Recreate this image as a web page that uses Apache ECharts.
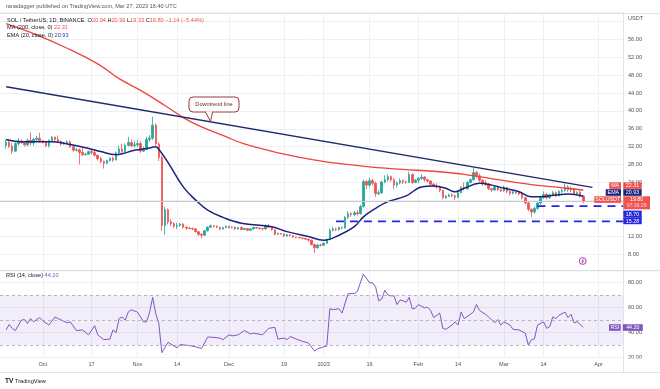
<!DOCTYPE html>
<html><head><meta charset="utf-8">
<script src="https://cdn.jsdelivr.net/npm/echarts@6/dist/echarts.min.js"></script>
<style>html,body{margin:0;padding:0;background:#fff}#c{width:660px;height:389px}</style>
</head><body><div id="c"></div>
<script>
const FONT = '"Liberation Sans", Arial, sans-serif';
const FS = 5.6;

// categories: daily from firstDay, dayCount days
const firstDay = '2022-09-17';
const dayCount = 205;
const candleStart = '2022-09-19';

// daily OHLC, Sep 19 2022 -> Mar 27 2023
const opens = [
32.3,33.0,32.1,31.0,32.7,33.2,32.9,32.4,33.4,32.8,33.6,33.9,
33.3,33.0,32.2,33.4,34.1,33.6,33.2,32.6,32.8,33.1,32.0,31.2,31.3,30.7,30.2,30.3,30.9,30.7,30.1,29.3,28.7,28.3,28.9,29.4,29.0,30.6,31.5,30.9,32.3,32.9,32.2,
32.4,32.7,31.0,31.4,33.6,33.9,36.8,32.6,29.6,14.4,17.9,15.2,14.8,14.2,14.4,14.7,14.0,13.8,13.7,13.6,13.0,12.4,12.2,13.2,14.0,14.3,14.2,14.0,13.6,13.9,
14.2,13.9,14.0,13.6,13.9,13.5,13.7,13.3,13.6,13.9,13.8,13.7,13.6,14.3,14.0,13.4,12.4,12.6,12.5,12.0,12.3,12.1,11.8,11.7,11.6,11.5,11.3,11.1,10.1,9.4,10.0,
9.96,10.4,11.2,13.3,13.6,13.5,13.9,13.8,16.2,17.0,16.8,17.2,17.0,18.6,24.2,23.4,24.4,23.8,21.5,21.7,24.1,24.6,25.3,24.6,23.4,23.9,24.4,24.1,24.0,25.8,24.0,
24.5,24.9,25.2,24.6,24.3,23.6,23.2,23.0,22.2,20.6,20.9,21.2,21.0,20.7,21.7,22.9,22.6,24.0,24.6,26.2,25.5,24.5,23.9,23.6,22.6,22.3,23.0,22.4,
22.1,22.9,22.0,21.6,21.9,21.7,21.4,20.6,19.4,18.0,17.4,18.2,19.4,20.6,21.3,20.6,21.2,21.7,21.0,22.0,22.2,23.0,22.3,22.6,21.5,21.8,20.94];
const closes = [
33.0,32.1,31.0,32.7,33.2,32.9,32.4,33.4,32.8,33.6,33.9,33.3,
33.0,32.2,33.4,34.1,33.6,33.2,32.6,32.8,33.1,32.0,31.2,31.3,30.7,30.2,30.3,30.9,30.7,30.1,29.3,28.7,28.3,28.9,29.4,29.0,30.6,31.5,30.9,32.3,32.9,32.2,32.4,
32.7,31.0,31.4,33.6,33.9,36.8,32.6,29.6,14.4,17.9,15.2,14.8,14.2,14.4,14.7,14.0,13.8,13.7,13.6,13.0,12.4,12.2,13.2,14.0,14.3,14.2,14.0,13.6,13.9,14.2,
13.9,14.0,13.6,13.9,13.5,13.7,13.3,13.6,13.9,13.8,13.7,13.6,14.3,14.0,13.4,12.4,12.6,12.5,12.0,12.3,12.1,11.8,11.7,11.6,11.5,11.3,11.1,10.1,9.4,10.0,9.96,
10.4,11.2,13.3,13.6,13.5,13.9,13.8,16.2,17.0,16.8,17.2,17.0,18.6,24.2,23.4,24.4,23.8,21.5,21.7,24.1,24.6,25.3,24.6,23.4,23.9,24.4,24.1,24.0,25.8,24.0,24.5,
24.9,25.2,24.6,24.3,23.6,23.2,23.0,22.2,20.6,20.9,21.2,21.0,20.7,21.7,22.9,22.6,24.0,24.6,26.2,25.5,24.5,23.9,23.6,22.6,22.3,23.0,22.4,22.1,
22.9,22.0,21.6,21.9,21.7,21.4,20.6,19.4,18.0,17.4,18.2,19.4,20.6,21.3,20.6,21.2,21.7,21.0,22.0,22.2,23.0,22.3,22.6,21.5,21.8,20.94,19.80];
const lows = [
31.6,31.7,30.4,30.8,32.2,32.6,32.0,32.1,32.3,32.2,33.0,32.9,
32.7,31.9,31.8,33.2,33.2,32.9,32.2,32.4,32.6,31.7,30.9,30.9,28.0,29.9,30.0,30.2,30.3,29.8,28.9,28.3,27.1,28.1,28.6,28.6,28.9,30.4,30.6,30.6,32.0,31.8,31.8,
31.9,30.6,30.8,31.2,33.0,33.5,32.2,28.8,13.2,12.3,14.6,14.2,13.8,13.6,14.1,13.7,13.4,13.5,13.3,12.8,12.0,11.5,12.1,13.0,13.8,13.9,13.8,13.3,13.4,13.8,
13.7,13.7,13.4,13.5,13.3,13.4,13.1,13.2,13.5,13.6,13.5,13.3,13.5,13.8,13.2,12.2,12.3,12.3,11.8,11.9,11.9,11.6,11.5,11.5,11.3,11.1,10.8,9.9,8.2,9.2,9.7,
9.9,10.3,11.1,13.0,13.1,13.2,13.5,13.7,15.8,16.3,16.5,16.6,16.8,18.4,22.6,22.9,23.3,20.8,21.2,21.4,23.8,24.2,24.1,22.4,22.8,23.6,23.6,23.7,23.9,23.6,23.8,
23.8,24.6,24.2,24.0,23.2,22.9,22.6,21.8,20.2,20.3,20.7,20.7,20.1,20.5,21.5,22.2,22.3,23.8,24.4,24.9,24.1,23.2,23.2,22.3,21.9,22.1,22.1,21.8,
21.9,21.6,21.1,21.3,21.4,21.1,20.2,19.1,17.6,16.3,17.0,17.9,19.0,20.3,20.2,20.3,20.9,20.7,20.9,21.6,21.9,21.9,21.8,21.2,21.2,20.6,19.33];
const highs = [
33.6,33.4,32.8,33.0,33.9,33.6,33.2,33.8,35.2,34.0,34.4,35.1,
33.5,33.2,33.6,34.4,34.3,34.5,33.4,33.0,33.4,33.4,32.2,31.7,31.6,31.7,30.6,31.1,31.3,31.2,30.2,29.7,28.9,29.1,29.6,29.8,30.9,32.2,32.6,32.7,34.2,33.6,33.3,
33.5,33.2,32.0,34.2,34.6,38.7,37.2,33.0,30.0,18.6,18.2,15.8,15.1,15.0,15.0,14.9,14.2,14.1,13.9,13.8,13.1,12.7,13.4,14.2,14.6,14.5,14.4,14.1,14.1,14.4,
14.3,14.2,14.1,14.0,14.2,13.9,13.8,13.8,14.1,14.0,14.0,13.8,14.6,14.7,14.1,13.5,12.8,12.7,12.6,12.5,12.3,12.2,11.9,11.8,11.7,11.6,11.5,11.2,10.3,10.2,10.3,
10.6,11.5,13.7,14.0,13.9,14.1,14.1,16.5,17.6,17.4,17.6,17.8,19.0,24.6,24.5,25.0,24.8,24.2,22.2,24.4,25.6,25.9,25.6,25.0,24.2,24.9,24.7,24.4,26.4,26.0,24.8,
25.2,25.9,25.4,24.8,24.5,23.9,23.8,23.3,22.4,21.2,21.5,21.6,21.3,22.0,23.2,24.0,24.3,24.9,27.2,26.6,26.0,24.7,24.5,23.9,22.8,23.2,23.3,22.7,
23.3,23.0,22.2,22.1,22.0,21.9,21.6,20.8,19.6,18.2,18.6,19.7,21.0,22.0,21.7,21.4,22.1,22.0,22.3,22.6,23.8,23.4,23.1,22.8,22.0,22.2,20.99];

// [dayIndex since firstDay, value]
const ema20 = [[2,33.6],[7,33.1],[17,33.1],[22,32.6],[29,31.6],[33,30.9],[38,30.2],[40,30.4],[44,31.2],[49,31.7],[51,32.0],[52,31.4],[55,28.5],[60,23.0],[64,20.1],[68,17.8],[73,16.2],[79,14.9],[89,14.1],[94,13.0],[101,11.9],[106,11.1],[111,12.2],[116,14.1],[119,16.3],[123,18.2],[127,19.7],[133,21.0],[138,23.0],[142,23.2],[146,22.7],[149,21.9],[152,22.7],[157,23.8],[161,23.4],[165,22.7],[170,21.9],[174,20.8],[177,20.8],[182,21.2],[186,21.4],[191,20.93]];
const ma200 = [[2,59.5],[12,57.0],[22,54.0],[32,50.5],[39,47.2],[47,44.2],[54,41.2],[60,38.5],[66,36.4],[73,34.5],[80,32.6],[90,30.8],[100,29.4],[110,28.3],[121,27.5],[132,26.9],[142,26.5],[152,25.8],[164,24.5],[174,23.5],[184,22.8],[191,22.31]];
const rsi14 = [[2,42.2],[3,46.6],[4,43.5],[5,41.7],[7,50],[8,50.5],[9,47.4],[10,51.3],[11,48.7],[13,52.1],[14,49.5],[16,46.1],[18,52.6],[19,51.3],[22,47.9],[23,48.7],[25,41.7],[27,42.2],[29,38.3],[31,45.6],[32,38.3],[34,34.4],[36,35],[37,42.2],[38,40],[39,51.3],[40,52.6],[41,50],[42,56.5],[43,58.3],[45,56.5],[47,48.7],[48,48.7],[49,56.5],[50,68.2],[51,55.2],[52,47.4],[53,24],[55,32.3],[58,27.9],[59,30.5],[62,29.7],[64,28.7],[66,27.4],[68,36.5],[69,36.5],[72,35.7],[73,34.4],[75,38.3],[76,37.5],[78,38.3],[80,41.7],[82,39.1],[83,39.6],[86,38.3],[88,43.5],[90,44.3],[91,34.9],[93,35.7],[94,34.4],[95,37],[97,34.9],[99,33.1],[101,31.8],[103,25.3],[104,27.1],[106,28.7],[107,29.2],[108,59.1],[109,58.5],[111,59.1],[112,55.7],[114,71.3],[116,71.3],[117,72.9],[119,86.9],[121,79.9],[122,79.9],[123,76.5],[124,65.6],[125,66.9],[126,73.9],[127,70.3],[128,69.5],[129,69.5],[130,62.5],[131,66.1],[132,65.6],[133,64.3],[134,68.2],[135,59.1],[136,59.6],[137,62.5],[139,59.9],[140,60.4],[141,57.8],[142,52.1],[144,55.7],[145,43.5],[146,42.7],[148,46.1],[149,48.7],[150,46.1],[151,56.5],[152,51.3],[154,54.7],[155,56.5],[156,62.5],[157,57.8],[159,54.7],[160,52.6],[162,47.9],[163,50.5],[164,46.1],[165,48.7],[167,46.1],[168,42.7],[170,42.2],[172,39.6],[173,30.2],[174,34.4],[175,35],[176,46.1],[178,48.7],[179,43.5],[180,44.8],[181,52.6],[182,51.3],[183,53.9],[185,56.5],[186,52.1],[187,54.7],[188,47.9],[189,48.7],[191,44.2]];
const downtrend = [[2,45.4],[194,22.9]];
const support1 = [[110,15.28],[204,15.28]];
const support2 = [[176,18.70],[204,18.70]];
const lastPrice = 19.80;

const tickDates = ['2022-10-01','2022-10-17','2022-11-01','2022-11-14','2022-12-01','2022-12-19','2023-01-01','2023-01-16','2023-02-01','2023-02-14','2023-03-01','2023-03-14','2023-04-01'];
const tickTexts = ['Oct','17','Nov','14','Dec','19','2023','16','Feb','14','Mar','14','Apr'];

const cats = [];
{ const [y,m,d] = firstDay.split('-').map(Number); const t0 = Date.UTC(y,m-1,d);
  for (let k=0;k<dayCount;k++) cats.push(new Date(t0+k*86400000).toISOString().slice(0,10)); }
const off = cats.indexOf(candleStart);
const candleData = opens.map((o,k)=>[off+k, o, closes[k], lows[k], highs[k]]);

const isTick = (idx, val) => tickDates.indexOf(val) >= 0;
const GRID = '#eef0f4';
const TXT = '#50535e';

function xAx(gi, showLabel){
  return {type:'category', gridIndex:gi, data:cats, boundaryGap:false,
    axisLine:{show:false}, axisTick:{show:false},
    axisLabel:{show:showLabel, interval:isTick, formatter:v=>tickTexts[tickDates.indexOf(v)]||'', fontSize:FS, fontFamily:FONT, color:TXT, margin:3.5},
    splitLine:{show:true, interval:isTick, lineStyle:{color:GRID, width:1}}};
}

const Z = 100;
function txt(x,y,text,fill,extra){ return Object.assign({type:'text', z:Z, style:Object.assign({x,y,text,fill:fill||TXT,fontSize:FS,fontFamily:FONT,verticalAlign:'middle',align:'left'}, extra||{})}); }
function box(x,y,w,h,bg,text){ return [
  {type:'rect', z:Z, shape:{x,y,width:w,height:h}, style:{fill:bg}},
  {type:'text', z:Z+1, style:{x:x+w/2,y:y+h/2+0.3,text,fill:'#fff',fontSize:FS-0.3,fontFamily:FONT,align:'center',verticalAlign:'middle'}}]; }
function line(x1,y1,x2,y2,c,w){ return {type:'line', z:Z-10, shape:{x1,y1,x2,y2}, style:{stroke:c,lineWidth:w||1}}; }

const RED='#ef5350', NAVY='#1a237e', BLUE='#2626dc', PURPLE='#7e57c2';
const richBase = {fontSize:FS, fontFamily:FONT};
const graphics = [
  {type:'rect', z:Z-12, shape:{x:0,y:271.2,width:623,height:2}, style:{fill:'#fff'}},
  {type:'rect', z:Z-12, shape:{x:623.5,y:358.5,width:37,height:13}, style:{fill:'#fff'}},
  line(0,13.5,660,13.5,'#e0e3eb'),
  line(0,270.7,660,270.7,'#d6d9e0'),
  line(0,372.5,660,372.5,'#e0e3eb'),
  line(623.5,357,623.5,372.5,'#e0e3eb'),
  txt(6,6,'ranadagger published on TradingView.com, Mar 27, 2023 16:40 UTC','#555'),
  {type:'text', z:Z, style:{x:7,y:20,verticalAlign:'middle',fontSize:FS,fontFamily:FONT,fill:'#131722',
    text:'{d|SOL / TetherUS, 1D, BINANCE}  {d|O}{r|20.94} {d|H}{r|20.99} {d|L}{r|19.33} {d|C}{r|19.80} {r|\u22121.14 (\u22125.44%)}',
    rich:{d:Object.assign({fill:'#131722'},richBase), r:Object.assign({fill:RED},richBase)}}},
  {type:'text', z:Z, style:{x:7,y:27.7,verticalAlign:'middle',fontSize:FS,fontFamily:FONT,
    text:'{d|MA (200, close, 0)} {r|22.31}', rich:{d:Object.assign({fill:'#131722'},richBase), r:Object.assign({fill:RED},richBase)}}},
  {type:'text', z:Z, style:{x:7,y:35.3,verticalAlign:'middle',fontSize:FS,fontFamily:FONT,
    text:'{d|EMA (20, close, 0)} {b|20.93}', rich:{d:Object.assign({fill:'#131722'},richBase), b:Object.assign({fill:'#2b3aa8'},richBase)}}},
  {type:'text', z:Z, style:{x:6,y:275.7,verticalAlign:'middle',fontSize:FS,fontFamily:FONT,
    text:'{d|RSI (14, close)} {p|44.20}', rich:{d:Object.assign({fill:'#131722'},richBase), p:Object.assign({fill:PURPLE},richBase)}}},
  txt(628,18,'USDT'),
  // callout
  {type:'rect', z:Z, shape:{x:189,y:97,width:50,height:15,r:4}, style:{fill:'#fff',stroke:'#9b3a3a',lineWidth:1}},
  {type:'polyline', z:Z+1, shape:{points:[[205.5,112],[210.5,121.5],[212.5,112]]}, style:{fill:'#fff',stroke:'#9b3a3a',lineWidth:1}},
  {type:'line', z:Z+2, shape:{x1:206.3,y1:112,x2:211.8,y2:112}, style:{stroke:'#fff',lineWidth:1.4}},
  txt(214,104.7,'Downtrend line','#6b2a2a',{align:'center'}),
  // lightning icon
  {type:'circle', z:Z, shape:{cx:582.7,cy:261,r:3.4}, style:{fill:'#fff',stroke:'#9c27b0',lineWidth:0.9}},
  {type:'polyline', z:Z+1, shape:{points:[[583.6,258.6],[581.8,261.3],[583.6,261],[581.8,263.5]]}, style:{stroke:'#9c27b0',lineWidth:0.8,fill:null}},
  // logo
  {type:'text', z:Z, style:{x:5,y:381,text:'TV',fill:'#131722',fontSize:6.5,fontWeight:'bold',fontFamily:FONT,verticalAlign:'middle'}},
  txt(15,381,'TradingView','#131722'),
  ...box(609.3,182.3,11.7,6.6,'#f0504a','MA'), ...box(623.3,182.3,18.4,6.6,'#f0504a','22.31'),
  ...box(605.7,189.2,15.3,6.6,NAVY,'EMA'), ...box(623.3,189.2,18.4,6.6,NAVY,'20.93'),
  ...box(594.3,196.3,26.7,6.6,RED,'SOLUSDT'),
  {type:'rect', z:Z, shape:{x:623.3,y:196.3,width:26.7,height:13}, style:{fill:RED}},
  {type:'text', z:Z+1, style:{x:636.6,y:199.8,text:'19.80',fill:'#fff',fontSize:FS-0.3,fontFamily:FONT,align:'center',verticalAlign:'middle'}},
  {type:'text', z:Z+1, style:{x:636.6,y:205.9,text:'07:19:29',fill:'#ffd6d6',fontSize:FS-0.5,fontFamily:FONT,align:'center',verticalAlign:'middle'}},
  ...box(623.3,210.6,18.4,7,BLUE,'18.70'), ...box(623.3,217.6,18.4,6.6,BLUE,'15.28'),
  ...box(609,324.2,11.7,6.6,PURPLE,'RSI'), ...box(622.8,324.2,20,6.6,PURPLE,'44.20'),
];

const option = {
  animation:false,
  backgroundColor:'#fff',
  grid:[{left:0,right:37,top:12.45,height:259.45},{left:0,right:37,top:270.2,height:87.5}],
  xAxis:[xAx(0,false), xAx(1,true)],
  yAxis:[
    {type:'value', gridIndex:0, position:'right', min:4, max:62, interval:4,
     axisLine:{show:true, lineStyle:{color:'#e0e3eb'}}, axisTick:{show:false},
     axisLabel:{margin:5, fontSize:FS, fontFamily:FONT, color:TXT, formatter:v=>(v<=4||v>=60)?'':v.toFixed(2)},
     splitLine:{lineStyle:{color:GRID}}},
    {type:'value', gridIndex:1, position:'right', min:20, max:90, interval:20,
     axisLine:{show:true, lineStyle:{color:'#e0e3eb'}}, axisTick:{show:false},
     axisLabel:{margin:5, fontSize:FS, fontFamily:FONT, color:TXT, formatter:v=>v>=90?'':v.toFixed(2)},
     splitLine:{lineStyle:{color:GRID}}}
  ],
  series:[
    {type:'candlestick', name:'SOLUSDT', xAxisIndex:0, yAxisIndex:0, data:candleData, encode:{x:0,y:[1,2,3,4]},
     barWidth:2, itemStyle:{color:'#26a69a',color0:RED,borderColor:'#26a69a',borderColor0:RED,borderWidth:0.8},
     markLine:{silent:true, symbol:['none','none'], label:{show:false}, lineStyle:{color:'#c6c8cc',type:'solid',width:1}, data:[{yAxis:lastPrice}]}, z:3},
    {type:'line', name:'MA', xAxisIndex:0, yAxisIndex:0, data:ma200, smooth:0.4, showSymbol:false, lineStyle:{color:'#f0433a',width:1.3}, z:4},
    {type:'line', name:'EMA', xAxisIndex:0, yAxisIndex:0, data:ema20, smooth:0.4, showSymbol:false, lineStyle:{color:'#1a237e',width:1.5}, z:4},
    {type:'line', name:'Downtrend', xAxisIndex:0, yAxisIndex:0, data:downtrend, showSymbol:false, lineStyle:{color:'#1f2a6b',width:1.4}, z:5},
    {type:'line', name:'S1', xAxisIndex:0, yAxisIndex:0, data:support1, showSymbol:false, lineStyle:{color:BLUE,width:1.8,type:[8,6]}, z:5},
    {type:'line', name:'S2', xAxisIndex:0, yAxisIndex:0, data:support2, showSymbol:false, lineStyle:{color:BLUE,width:1.8,type:[8,6]}, z:5},
    {type:'line', name:'RSI', xAxisIndex:1, yAxisIndex:1, data:rsi14, showSymbol:false, lineStyle:{color:PURPLE,width:1}, z:4,
     markArea:{silent:true, itemStyle:{color:'rgba(126,87,194,0.1)'}, data:[[{yAxis:30},{yAxis:70}]]},
     markLine:{silent:true, symbol:['none','none'], label:{show:false}, lineStyle:{color:'#a3a6b0',type:[3,3],width:0.8}, data:[{yAxis:70},{yAxis:50},{yAxis:30}]}}
  ],
  graphic:{elements:graphics}
};
const chart = echarts.init(document.getElementById('c'));
chart.setOption(option);
</script></body></html>
